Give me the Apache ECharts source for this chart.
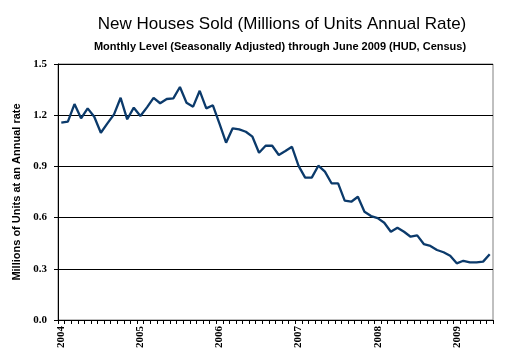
<!DOCTYPE html>
<html>
<head>
<meta charset="utf-8">
<script src="https://cdn.jsdelivr.net/npm/echarts@6/dist/echarts.min.js"></script>
<style>
html,body{margin:0;padding:0;background:#fff;}
#chart{width:507px;height:358px;}
</style>
</head>
<body>
<div id="chart"></div>
<script>
var years = ['2004','2005','2006','2007','2008','2009'];
var months = ['Jan','Feb','Mar','Apr','May','Jun','Jul','Aug','Sep','Oct','Nov','Dec'];
var sales2004 = [1.156,1.162,1.265,1.182,1.240,1.191,1.097,1.152,1.205,1.302,1.176,1.244];
var sales2005 = [1.195,1.246,1.302,1.270,1.295,1.299,1.365,1.273,1.250,1.343,1.240,1.258];
var sales2006 = [1.150,1.039,1.123,1.117,1.103,1.074,0.980,1.021,1.021,0.967,0.990,1.015];
var sales2007 = [0.903,0.834,0.834,0.904,0.869,0.801,0.801,0.699,0.693,0.722,0.634,0.609];
var sales2008 = [0.597,0.570,0.517,0.541,0.517,0.488,0.496,0.445,0.434,0.410,0.397,0.377];
var sales2009 = [0.332,0.347,0.338,0.338,0.342,0.385];
var yTicks = ['0.0','0.3','0.6','0.9','1.2','1.5'];

var values = [].concat(sales2004, sales2005, sales2006, sales2007, sales2008, sales2009);
var categories = [];
years.forEach(function (y) {
  months.forEach(function (m) {
    if (categories.length < values.length) categories.push(m + ' ' + y);
  });
});

var chart = echarts.init(document.getElementById('chart'));
chart.setOption({
  animation: false,
  backgroundColor: '#ffffff',
  title: [
    {
      text: 'New Houses Sold (Millions of Units Annual Rate)',
      left: 277, top: 11, textAlign: 'center',
      textStyle: {fontFamily: 'Liberation Sans, Arial', fontSize: 17, fontWeight: 'normal', color: '#000'}
    },
    {
      text: 'Monthly Level (Seasonally Adjusted) through June 2009 (HUD, Census)',
      left: 275, top: 36, textAlign: 'center',
      textStyle: {fontFamily: 'Liberation Sans, Arial', fontSize: 11, fontWeight: 'bold', color: '#000'}
    }
  ],
  grid: {
    left: 58, right: 14, top: 64, bottom: 38,
    show: true, borderColor: '#808080', borderWidth: 1, backgroundColor: '#fff'
  },
  xAxis: {
    type: 'category',
    data: categories,
    boundaryGap: true,
    axisLine: {lineStyle: {color: '#000', width: 1}},
    axisTick: {show: true, interval: 0, length: 4, lineStyle: {color: '#000'}},
    axisLabel: {
      rotate: 90,
      margin: 6,
      interval: function (i) { return i % 12 === 0; },
      formatter: function (v) { return v.split(' ')[1]; },
      fontFamily: 'Liberation Serif, Times New Roman',
      fontWeight: 'bold', fontSize: 11, color: '#000'
    },
    splitLine: {show: false}
  },
  yAxis: {
    type: 'value',
    min: 0, max: 1.5, interval: 0.3,
    name: 'Millions of Units at an Annual rate',
    nameLocation: 'middle',
    nameRotate: 90,
    nameGap: 36,
    nameTextStyle: {fontFamily: 'Liberation Sans, Arial', fontSize: 11, fontWeight: 'bold', color: '#000'},
    axisLine: {show: true, lineStyle: {color: '#000', width: 1}},
    axisTick: {show: true, length: 4, lineStyle: {color: '#000'}},
    axisLabel: {
      margin: 11,
      formatter: function (v) { return yTicks[Math.round(v / 0.3)]; },
      fontFamily: 'Liberation Serif, Times New Roman',
      fontWeight: 'bold', fontSize: 11, color: '#000'
    },
    splitLine: {show: true, lineStyle: {color: '#000', width: 1}}
  },
  series: [{
    type: 'line',
    data: values,
    showSymbol: false,
    symbol: 'none',
    lineStyle: {color: '#0b3a6b', width: 2.3},
    itemStyle: {color: '#0b3a6b'}
  }]
});
</script>
</body>
</html>
